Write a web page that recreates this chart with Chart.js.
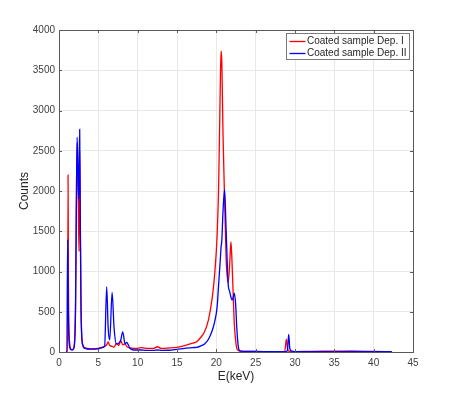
<!DOCTYPE html>
<html>
<head>
<meta charset="utf-8">
<script src="https://cdn.jsdelivr.net/npm/chart.js@4"></script>
<style>
  body { margin: 0; background: #fff; }
  canvas { display: block; }
</style>
</head>
<body>
<canvas id="chartEds" width="457" height="396"></canvas>
<script>
// energy grid (keV) shared by both spectra
var energy = [0.9, 1.0, 1.1, 1.15, 1.2, 1.3, 1.5, 1.7, 1.9, 2.1, 2.2, 2.3, 2.4, 2.5, 2.55, 2.63, 2.7, 2.8, 3.0, 3.3,
  4, 5, 5.5, 5.8, 6.06, 6.25, 6.45, 6.75, 7.0, 7.3, 7.6, 7.85, 8.1, 8.4, 8.6, 9.0, 9.5, 10, 10.5, 11,
  12, 12.5, 13, 14, 15, 16, 17, 17.5, 18, 18.5, 19, 19.5, 19.8, 20.1, 20.3, 20.5, 20.6, 20.7, 20.85, 21.05,
  21.25, 21.5, 21.7, 21.86, 22.0, 22.15, 22.28, 22.45, 22.6, 22.8, 23.0, 24, 26, 28, 28.7, 28.9, 29.05, 29.2, 29.35, 29.6,
  30, 32, 35, 37, 40, 42.3];

var countsDep1 = [0, 0, 0, 2200, 900, 200, 40, 30, 60, 600, 1800, 2600, 2200, 1500, 1250, 2500, 1800, 600, 100, 50,
  40, 45, 60, 70, 90, 124, 80, 70, 60, 108, 80, 140, 90, 100, 70, 50, 45, 45, 55, 45,
  45, 65, 45, 50, 58, 80, 110, 128, 180, 252, 400, 690, 980, 1450, 2100, 3300, 3740, 3600, 2700, 1900,
  1150, 860, 1100, 1370, 1100, 700, 360, 150, 46, 20, 12, 8, 5, 5, 8, 160, 40, 10, 8, 5,
  5, 8, 10, 12, 8, 3];

var countsDep2 = [0, 0, 1400, 900, 400, 100, 30, 25, 50, 500, 1700, 2667, 2300, 1900, 2200, 2766, 1700, 500, 90, 45,
  35, 40, 55, 70, 810, 300, 150, 740, 300, 100, 110, 150, 250, 100, 120, 50, 25, 25, 25, 20,
  20, 25, 20, 22, 33, 45, 55, 58, 75, 100, 158, 273, 380, 560, 853, 1143, 1300, 1390, 1750, 2020,
  1500, 850, 750, 680, 646, 680, 730, 600, 300, 60, 15, 8, 5, 5, 5, 5, 30, 220, 40, 10,
  5, 5, 5, 6, 5, 3];

var seriesNames = ['Coated sample Dep. I', 'Coated sample Dep. II'];
var xTicks = [0, 5, 10, 15, 20, 25, 30, 35, 40, 45];
var yTicks = [0, 500, 1000, 1500, 2000, 2500, 3000, 3500, 4000];

function toPoints(ys) {
  return energy.map(function (e, i) { return { x: e, y: ys[i] }; });
}

// MATLAB style box, inward ticks and legend inside the axes
var boxPlugin = {
  id: 'boxPlugin',
  afterDraw: function (chart) {
    var ctx = chart.ctx, a = chart.chartArea;
    var sx = chart.scales.x, sy = chart.scales.y;
    ctx.save();
    ctx.strokeStyle = '#5a5a5a';
    ctx.lineWidth = 1;
    ctx.strokeRect(Math.round(a.left) + 0.5, Math.round(a.top) + 0.5,
      Math.round(a.right - a.left), Math.round(a.bottom - a.top));
    ctx.beginPath();
    xTicks.forEach(function (t) {
      var px = Math.round(sx.getPixelForValue(t)) + 0.5;
      ctx.moveTo(px, a.bottom); ctx.lineTo(px, a.bottom - 3);
      ctx.moveTo(px, a.top); ctx.lineTo(px, a.top + 3);
    });
    yTicks.forEach(function (t) {
      var py = Math.round(sy.getPixelForValue(t)) + 0.5;
      ctx.moveTo(a.left, py); ctx.lineTo(a.left + 3, py);
      ctx.moveTo(a.right, py); ctx.lineTo(a.right - 3, py);
    });
    ctx.stroke();

    // legend
    ctx.font = '10px "Liberation Sans", Arial, sans-serif';
    var tw = 0;
    chart.data.datasets.forEach(function (ds) { tw = Math.max(tw, ctx.measureText(ds.label).width); });
    var w = Math.round(tw + 24), h = 26;
    var lx = Math.round(a.right - 4 - w) + 0.5, ly = Math.round(a.top + 3) + 0.5;
    ctx.fillStyle = '#fff';
    ctx.fillRect(lx, ly, w, h);
    ctx.strokeStyle = '#7a7a7a';
    ctx.strokeRect(lx, ly, w, h);
    ctx.textBaseline = 'middle';
    ctx.textAlign = 'left';
    chart.data.datasets.forEach(function (ds, i) {
      var yy = ly + 8 + i * 12;
      ctx.strokeStyle = ds.borderColor;
      ctx.lineWidth = 1.3;
      ctx.beginPath();
      ctx.moveTo(lx + 3, yy); ctx.lineTo(lx + 19, yy);
      ctx.stroke();
      ctx.fillStyle = '#262626';
      ctx.fillText(ds.label, lx + 20.5, yy);
    });
    ctx.restore();
  }
};

var ctx = document.getElementById('chartEds').getContext('2d');
var chartEds = new Chart(ctx, {
  type: 'line',
  data: {
    datasets: [{
      label: seriesNames[0],
      data: toPoints(countsDep1),
      borderColor: '#ff0000',
      borderWidth: 1.3,
      pointRadius: 0,
      cubicInterpolationMode: 'monotone',
      order: 1
    }, {
      label: seriesNames[1],
      data: toPoints(countsDep2),
      borderColor: '#0000ff',
      borderWidth: 1.3,
      pointRadius: 0,
      cubicInterpolationMode: 'monotone',
      order: 0
    }]
  },
  options: {
    responsive: false,
    animation: false,
    layout: { padding: { left: 0, top: 30, right: 44, bottom: 0 } },
    plugins: { legend: { display: false }, tooltip: { enabled: false } },
    scales: {
      x: {
        type: 'linear', min: 0, max: 45,
        afterFit: function (s) { s.height = 44; },
        afterBuildTicks: function (s) { s.ticks = xTicks.map(function (v) { return { value: v }; }); },
        grid: { color: '#e8e8e8', drawTicks: false },
        border: { display: false },
        ticks: { padding: 5, color: '#404040', font: { size: 10, family: '"Liberation Sans", Arial' }, maxRotation: 0,
          callback: function (v) { return String(v); } },
        title: { display: true, text: 'E(keV)', color: '#262626', font: { size: 12, family: '"Liberation Sans", Arial' }, padding: { top: 0, bottom: 12 } }
      },
      y: {
        min: 0, max: 4000,
        afterFit: function (s) { s.width = 59; },
        afterBuildTicks: function (s) { s.ticks = yTicks.map(function (v) { return { value: v }; }); },
        grid: { color: '#e8e8e8', drawTicks: false },
        border: { display: false },
        ticks: { padding: 4, color: '#404040', font: { size: 10, family: '"Liberation Sans", Arial' },
          callback: function (v) { return String(v); } },
        title: { display: true, text: 'Counts', color: '#262626', font: { size: 12, family: '"Liberation Sans", Arial' }, padding: { top: 17, bottom: 0 } }
      }
    }
  },
  plugins: [boxPlugin]
});
</script>
</body>
</html>
